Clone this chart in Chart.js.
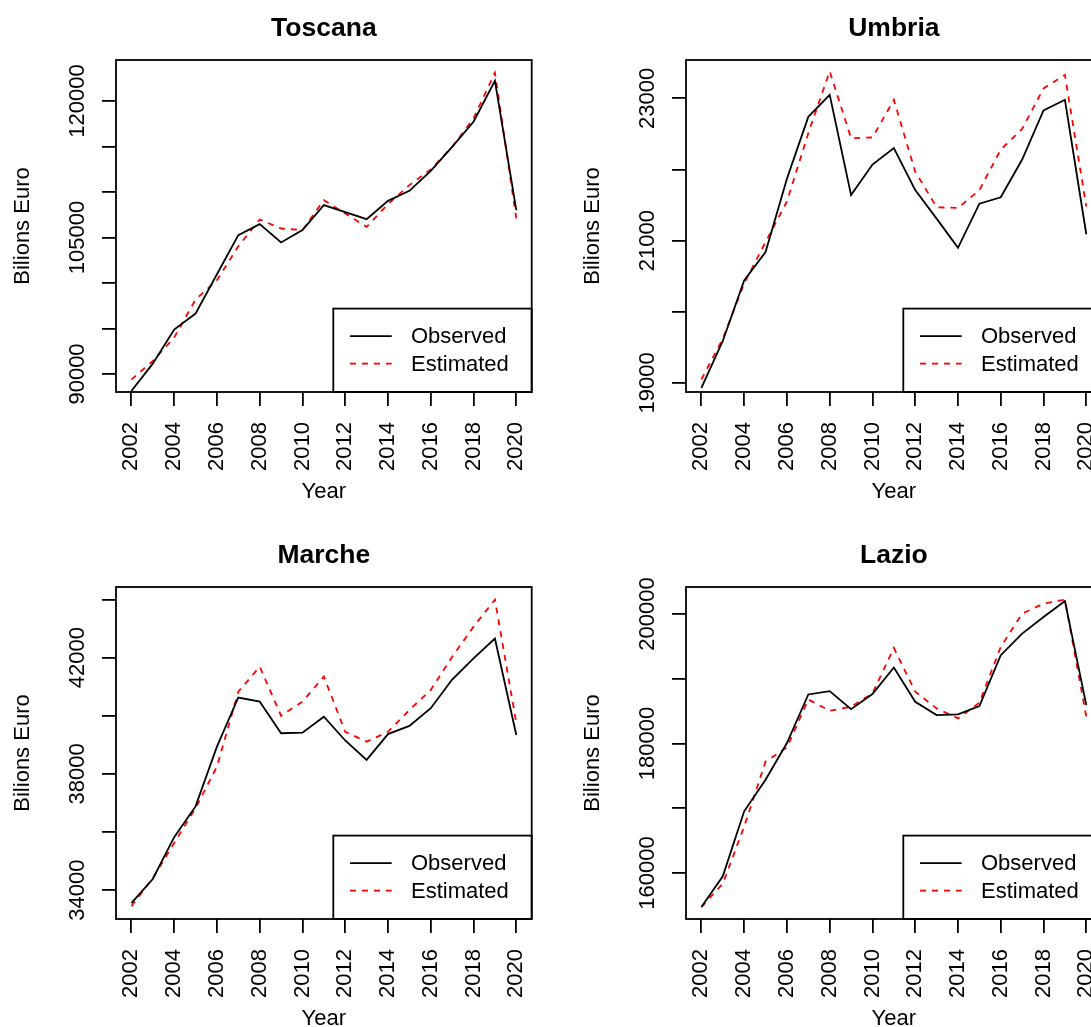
<!DOCTYPE html>
<html>
<head>
<meta charset="utf-8">
<title>Observed vs Estimated</title>
<script src="https://cdn.jsdelivr.net/npm/chart.js@4.4.1/dist/chart.umd.min.js"></script>
<style>
  html, body { margin: 0; padding: 0; background: #ffffff; }
  #wrap { position: relative; width: 1091px; height: 1027px; overflow: hidden; background: #ffffff; }
  #wrap canvas { position: absolute; }
</style>
</head>
<body>
<div id="wrap">
  <canvas id="c1" width="570" height="527" style="left:0px;top:0px;width:570px;height:527px"></canvas>
  <canvas id="c2" width="570" height="527" style="left:570px;top:0px;width:570px;height:527px"></canvas>
  <canvas id="c3" width="570" height="527" style="left:0px;top:527px;width:570px;height:527px"></canvas>
  <canvas id="c4" width="570" height="527" style="left:570px;top:527px;width:570px;height:527px"></canvas>
</div>
<script>
// Years on the horizontal axis and the labelled year ticks
const years = [2002, 2003, 2004, 2005, 2006, 2007, 2008, 2009, 2010, 2011,
               2012, 2013, 2014, 2015, 2016, 2017, 2018, 2019, 2020];
const yearTicks = [2002, 2004, 2006, 2008, 2010, 2012, 2014, 2016, 2018, 2020];

// Toscana
const toscanaObserved  = [88130, 91140, 94880, 96640, 100960, 105260, 106470, 104450, 105810, 108560,
                          107790, 107020, 109030, 110130, 112330, 114970, 117720, 122230, 108010];
const toscanaEstimated = [89380, 91430, 94000, 98180, 100300, 104040, 106980, 105990, 105810, 109110,
                          107640, 106170, 108670, 110760, 112480, 114970, 118090, 123110, 107090];
const toscanaTicks  = [90000, 95000, 100000, 105000, 110000, 115000, 120000];
const toscanaLabels = [90000, 105000, 120000];

// Umbria
const umbriaObserved  = [18930, 19590, 20440, 20840, 21870, 22740, 23050, 21640, 22070, 22300,
                         21710, 21310, 20900, 21520, 21610, 22140, 22830, 22980, 21090];
const umbriaEstimated = [19050, 19620, 20400, 20980, 21550, 22510, 23380, 22440, 22450, 22980,
                         21970, 21470, 21460, 21710, 22280, 22570, 23140, 23330, 21480];
const umbriaTicks  = [19000, 20000, 21000, 22000, 23000];
const umbriaLabels = [19000, 21000, 23000];

// Marche
const marcheObserved  = [33550, 34380, 35820, 36880, 38940, 40630, 40490, 39400, 39420, 39970,
                         39150, 38480, 39370, 39650, 40260, 41250, 41980, 42660, 39340];
const marcheEstimated = [33440, 34410, 35620, 36820, 38250, 40830, 41690, 40000, 40490, 41350,
                         39450, 39110, 39450, 40200, 40890, 42030, 43070, 44000, 39750];
const marcheTicks  = [34000, 36000, 38000, 40000, 42000, 44000];
const marcheLabels = [34000, 38000, 42000];

// Lazio
const lazioObserved  = [154760, 159490, 169540, 174420, 180070, 187570, 188090, 185310, 187630, 191730,
                        186440, 184390, 184490, 185780, 193630, 196970, 199540, 202000, 185930];
const lazioEstimated = [154760, 158360, 167190, 177200, 179410, 186800, 185060, 185670, 187730, 194760,
                        187990, 185420, 183880, 186290, 194920, 200050, 201590, 202210, 184130];
const lazioTicks  = [160000, 170000, 180000, 190000, 200000];
const lazioLabels = [160000, 180000, 200000];

const seriesNames = ['Observed', 'Estimated'];

const FONT = '"Liberation Sans", Arial, Helvetica, sans-serif';
const INK = '#000000';
const RED = '#ff0000';
const LW = 1.8;

// Box, title, rotated y tick labels and the legend of one panel
const panelDecor = {
  id: 'panelDecor',
  afterDatasetsDraw(chart, args, opts) {
    const ctx = chart.ctx;
    const a = chart.chartArea;
    ctx.save();

    // plot frame
    ctx.strokeStyle = INK;
    ctx.lineWidth = LW;
    ctx.strokeRect(a.left, a.top, a.right - a.left, a.bottom - a.top);

    // panel title
    ctx.fillStyle = INK;
    ctx.font = 'bold 26.5px ' + FONT;
    ctx.textAlign = 'center';
    ctx.textBaseline = 'alphabetic';
    ctx.fillText(opts.title, (a.left + a.right) / 2, a.top - 24);

    // y tick labels, parallel to the axis
    const ys = chart.scales.y;
    ctx.font = '22px ' + FONT;
    ctx.textBaseline = 'middle';
    ctx.textAlign = 'center';
    opts.labels.forEach(v => {
      const py = ys.getPixelForValue(v);
      ctx.save();
      ctx.translate(a.left - 38.5, py);
      ctx.rotate(-Math.PI / 2);
      ctx.fillText(String(v), 0, 0);
      ctx.restore();
    });

    // legend in the lower right corner
    const bx = a.right - 198.4;
    const by = a.bottom - 83.4;
    ctx.lineWidth = LW;
    ctx.strokeStyle = INK;
    ctx.strokeRect(bx, by, a.right - bx, a.bottom - by);
    const rows = [
      { y: by + 27.5, color: INK, dash: [] },
      { y: by + 55.0, color: RED, dash: [6, 6] }
    ];
    ctx.textAlign = 'left';
    ctx.textBaseline = 'middle';
    rows.forEach((r, i) => {
      ctx.beginPath();
      ctx.setLineDash(r.dash);
      ctx.strokeStyle = r.color;
      ctx.lineWidth = LW;
      ctx.moveTo(bx + 16.7, r.y);
      ctx.lineTo(bx + 58.4, r.y);
      ctx.stroke();
      ctx.setLineDash([]);
      ctx.fillStyle = INK;
      ctx.fillText(seriesNames[i], bx + 77.7, r.y + 1);
    });
    ctx.restore();
  }
};

function points(values) {
  return years.map((yr, i) => ({ x: yr, y: values[i] }));
}

function makePanel(id, title, observed, estimated, yMin, yMax, yTicks, yLabels) {
  return new Chart(document.getElementById(id), {
    type: 'line',
    data: {
      datasets: [
        { label: seriesNames[0], data: points(observed), borderColor: INK, borderWidth: LW,
          pointRadius: 0, tension: 0, fill: false },
        { label: seriesNames[1], data: points(estimated), borderColor: RED, borderWidth: LW,
          borderDash: [6, 6], pointRadius: 0, tension: 0, fill: false }
      ]
    },
    options: {
      responsive: false,
      animation: false,
      devicePixelRatio: 1,
      layout: { padding: { left: 0, top: 60, right: 38.3, bottom: 0 } },
      plugins: {
        legend: { display: false },
        tooltip: { enabled: false },
        title: { display: false },
        panelDecor: { title: title, labels: yLabels }
      },
      scales: {
        x: {
          type: 'linear',
          min: 2001.28,
          max: 2020.72,
          afterBuildTicks: s => { s.ticks = yearTicks.map(v => ({ value: v })); },
          afterFit: s => { s.height = 135; },
          grid: { display: true, drawOnChartArea: false, drawTicks: true, tickLength: 14,
                  color: INK, lineWidth: LW },
          border: { display: false },
          ticks: {
            display: true, autoSkip: false, minRotation: 90, maxRotation: 90, padding: 16,
            color: INK, font: { family: FONT, size: 22 },
            callback: v => String(v)
          },
          title: { display: true, text: 'Year', color: INK, font: { family: FONT, size: 22 },
                   padding: { top: 0, bottom: 22 } }
        },
        y: {
          type: 'linear',
          min: yMin,
          max: yMax,
          afterBuildTicks: s => { s.ticks = yTicks.map(v => ({ value: v })); },
          afterFit: s => { s.width = 116; },
          grid: { display: true, drawOnChartArea: false, drawTicks: true, tickLength: 14,
                  color: INK, lineWidth: LW },
          border: { display: false },
          ticks: { display: false },
          title: { display: true, text: 'Bilions Euro', color: INK, font: { family: FONT, size: 22 },
                   padding: { top: 10, bottom: 0 } }
        }
      }
    },
    plugins: [panelDecor]
  });
}

makePanel('c1', 'Toscana', toscanaObserved, toscanaEstimated, 88020, 124510, toscanaTicks, toscanaLabels);
makePanel('c2', 'Umbria',  umbriaObserved,  umbriaEstimated,  18873, 23539,  umbriaTicks,  umbriaLabels);
makePanel('c3', 'Marche',  marcheObserved,  marcheEstimated,  33003, 44435,  marcheTicks,  marcheLabels);
makePanel('c4', 'Lazio',   lazioObserved,   lazioEstimated,   152912, 204160, lazioTicks,  lazioLabels);
</script>
</body>
</html>
